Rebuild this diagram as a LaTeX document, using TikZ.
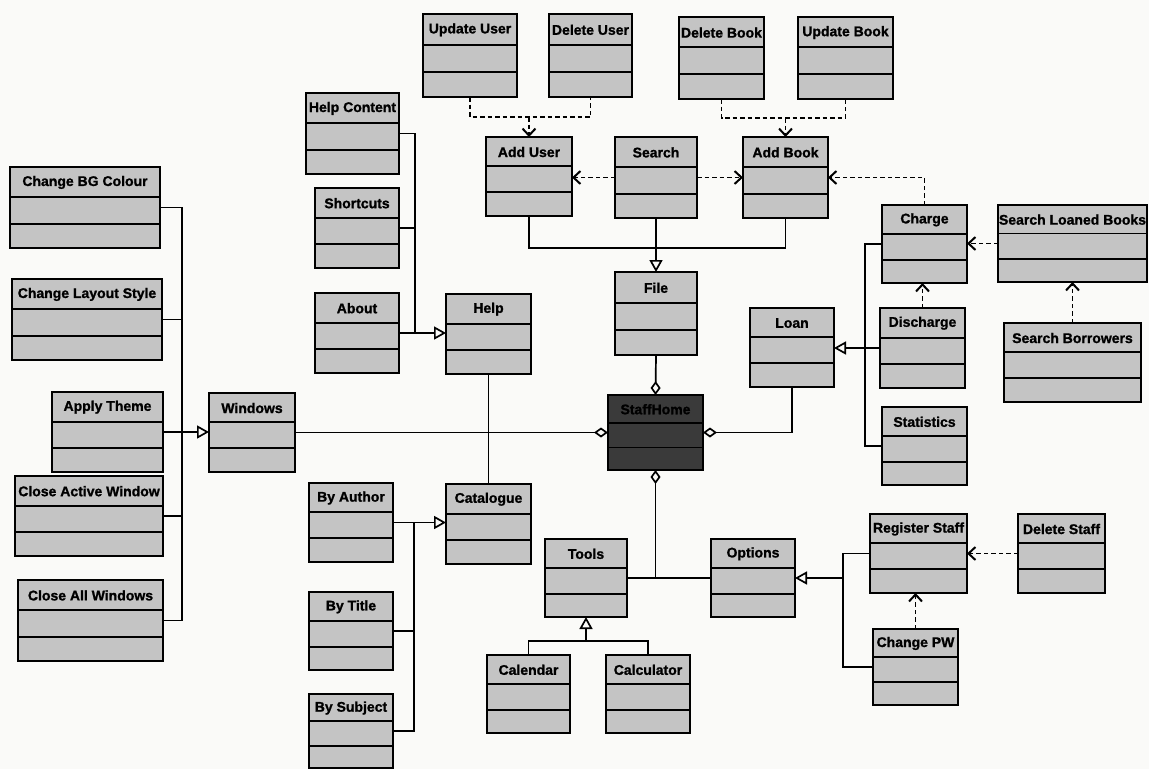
\documentclass[tikz,border=0pt]{standalone}
\usepackage{fontspec}
\setmainfont{Liberation Sans}[BoldFeatures={FakeBold=1.2}]
\usetikzlibrary{arrows.meta,calc}

\definecolor{boxgray}{RGB}{196,196,196}
\definecolor{darkbox}{RGB}{58,58,58}
\definecolor{paper}{RGB}{250,250,248}

\tikzset{
  cls/.style={draw=black, line width=2.2pt, inner sep=0pt, outer sep=0pt},
  clsname/.style={font=\bfseries\fontsize{14}{14}\selectfont, inner sep=0pt, text=black},
  conn/.style={draw=black, line width=1.7pt},
  gen/.style={conn, -{Triangle[open, length=12pt, width=13pt, line width=1.7pt]}},
  dep/.style={conn, line width=1.9pt, dash pattern=on 4.5pt off 3pt, -{Straight Barb[length=7pt, width=13pt, line width=2pt]}},
  depline/.style={conn, line width=1.9pt, dash pattern=on 4.5pt off 3pt},
  agg/.style={conn, -{Diamond[open, length=14pt, width=10pt, line width=1.7pt]}},
}

% UML class box: [fill]{node name}{left}{top}{right}{bottom}{class name}
\newcommand\umlclass[7][boxgray]{%
  \node[cls, fill=#1, minimum width={(#5-#3)*1pt}, minimum height={(#6-#4)*1pt}]
    (#2) at ({(#3+#5)/2},{(#4+#6)/2}) {};
  \draw[line width=1.9pt] ($(#2.north west)!0.37!(#2.south west)$) -- ($(#2.north east)!0.37!(#2.south east)$);
  \draw[line width=1.9pt] ($(#2.north west)!0.70!(#2.south west)$) -- ($(#2.north east)!0.70!(#2.south east)$);
  \node[clsname] at ($(#2.north)!0.19!(#2.south)$) {#7};
}

\begin{document}
\begin{tikzpicture}[x=1pt, y=-1pt]
  \fill[paper] (0,0) rectangle (1149,769);
  \useasboundingbox (0,0) rectangle (1149,769);

  % ---- user / book maintenance ----
  \umlclass{upduser}{423}{14}{517}{97}{Update User}
  \umlclass{deluser}{549}{14}{632}{97}{Delete User}
  \umlclass{delbook}{679}{17}{764}{99}{Delete Book}
  \umlclass{updbook}{798}{17}{893}{99}{Update Book}

  \umlclass{adduser}{486}{137}{572}{216}{Add User}
  \umlclass{search}{615}{137}{697}{218}{Search}
  \umlclass{addbook}{743}{137}{828}{218}{Add Book}
  \umlclass{file}{615}{272}{697}{355}{File}

  % ---- central class ----
  \umlclass[darkbox]{home}{608}{395}{703}{470}{StaffHome}

  % ---- help ----
  \umlclass{helpcontent}{306}{93}{399}{174}{Help Content}
  \umlclass{shortcuts}{315}{188}{399}{268}{Shortcuts}
  \umlclass{about}{315}{293}{399}{373}{About}
  \umlclass{help}{446}{294}{531}{374}{Help}

  % ---- catalogue ----
  \umlclass{catalogue}{446}{484}{531}{564}{Catalogue}
  \umlclass{byauthor}{309}{483}{393}{562}{By Author}
  \umlclass{bytitle}{309}{592}{393}{670}{By Title}
  \umlclass{bysubject}{309}{694}{393}{768}{By Subject}

  % ---- windows ----
  \umlclass{windows}{209}{393}{295}{472}{Windows}
  \umlclass{bgcolour}{10}{167}{160}{248}{Change BG Colour}
  \umlclass{layout}{12}{279}{162}{360}{Change Layout Style}
  \umlclass{theme}{52}{392}{163}{472}{Apply Theme}
  \umlclass{closeactive}{15}{476}{163}{556}{Close Active Window}
  \umlclass{closeall}{18}{580}{163}{661}{Close All Windows}

  % ---- loan ----
  \umlclass{loan}{750}{308}{834}{387}{Loan}
  \umlclass{charge}{882}{205}{967}{283}{Charge}
  \umlclass{discharge}{880}{308}{965}{388}{Discharge}
  \umlclass{statistics}{882}{407}{967}{485}{Statistics}
  \umlclass{searchloaned}{998}{205}{1147}{282}{Search Loaned Books}
  \umlclass{searchborrowers}{1004}{323}{1141}{402}{Search Borrowers}

  % ---- tools ----
  \umlclass{tools}{545}{539}{627}{617}{Tools}
  \umlclass{calendar}{487}{655}{570}{733}{Calendar}
  \umlclass{calculator}{606}{655}{690}{733}{Calculator}

  % ---- options ----
  \umlclass{options}{711}{539}{795}{617}{Options}
  \umlclass{regstaff}{870}{514}{967}{593}{Register Staff}
  \umlclass{delstaff}{1018}{514}{1105}{593}{Delete Staff}
  \umlclass{changepw}{873}{629}{958}{705}{Change PW}

  % bus coordinates
  \coordinate (userbus) at (0,117);
  \coordinate (bookbus) at (0,118);
  \coordinate (filebus) at (0,248);
  \coordinate (helpbus) at (415,0);
  \coordinate (catbus) at (414,0);
  \coordinate (winbus) at (182,0);
  \coordinate (loanbus) at (865,0);
  \coordinate (toolbus) at (0,641);
  \coordinate (optbus) at (843,0);

  % ---- dependencies (dashed) ----
  \draw[depline] (upduser.south) -- (upduser.south |- userbus) -- (deluser.south |- userbus) -- (deluser.south);
  \draw[dep] (adduser.north |- userbus) -- (adduser.north);
  \draw[depline] (delbook.south) -- (delbook.south |- bookbus) -- (updbook.south |- bookbus) -- (updbook.south);
  \draw[dep] (addbook.north |- bookbus) -- (addbook.north);
  \draw[dep] (search.west) -- (adduser.east |- search.west);
  \draw[dep] (search.east) -- (addbook.west |- search.east);
  \draw[dep] (charge.north) |- (addbook.east);
  \draw[dep] (searchloaned.west) -- (charge.east |- searchloaned.west);
  \draw[dep] (discharge.north) -- (discharge.north |- charge.south);
  \draw[dep] (searchborrowers.north) -- (searchborrowers.north |- searchloaned.south);
  \draw[dep] (delstaff.west) -- (regstaff.east |- delstaff.west);
  \draw[dep] (changepw.north) -- (changepw.north |- regstaff.south);

  % ---- generalisations ----
  \draw[conn] (adduser.south) -- (adduser.south |- filebus) -- (addbook.south |- filebus) -- (addbook.south);
  \draw[gen] (search.south) -- (file.north);

  \draw[conn] (helpcontent.east) -- (helpcontent.east -| helpbus) -- (about.east -| helpbus);
  \draw[conn] (shortcuts.east) -- (shortcuts.east -| helpbus);
  \draw[gen] (about.east) -- (help.west |- about.east);

  \draw[conn] (bysubject.east) -- (bysubject.east -| catbus) -- (byauthor.east -| catbus);
  \draw[conn] (bytitle.east) -- (bytitle.east -| catbus);
  \draw[gen] (byauthor.east) -- (catalogue.west |- byauthor.east);

  \draw[conn] (bgcolour.east) -- (bgcolour.east -| winbus) -- (closeall.east -| winbus) -- (closeall.east);
  \draw[conn] (layout.east) -- (layout.east -| winbus);
  \draw[conn] (closeactive.east) -- (closeactive.east -| winbus);
  \draw[gen] (theme.east) -- (windows.west |- theme.east);

  \draw[conn] (charge.west) -- (charge.west -| loanbus) -- (statistics.west -| loanbus) -- (statistics.west);
  \draw[gen] (discharge.west) -- (loan.east |- discharge.west);

  \draw[conn] (calendar.north) -- (calendar.north |- toolbus) -- (calculator.north |- toolbus) -- (calculator.north);
  \draw[gen] (tools.south |- toolbus) -- (tools.south);

  \draw[conn] (regstaff.west) -- (regstaff.west -| optbus) -- (changepw.west -| optbus) -- (changepw.west);
  \draw[gen] (options.east -| optbus) -- (options.east);

  % ---- associations ----
  \draw[conn] (help.south) -- (catalogue.north);
  \draw[agg] (file.south) -- (home.north);
  \draw[agg] (windows.east) -- (home.west);
  \draw[agg] (loan.south) |- (home.east);
  \draw[conn] (tools.east) -- (options.west);
  \draw[agg] (home.south |- tools.east) -- (home.south);
\end{tikzpicture}
\end{document}
